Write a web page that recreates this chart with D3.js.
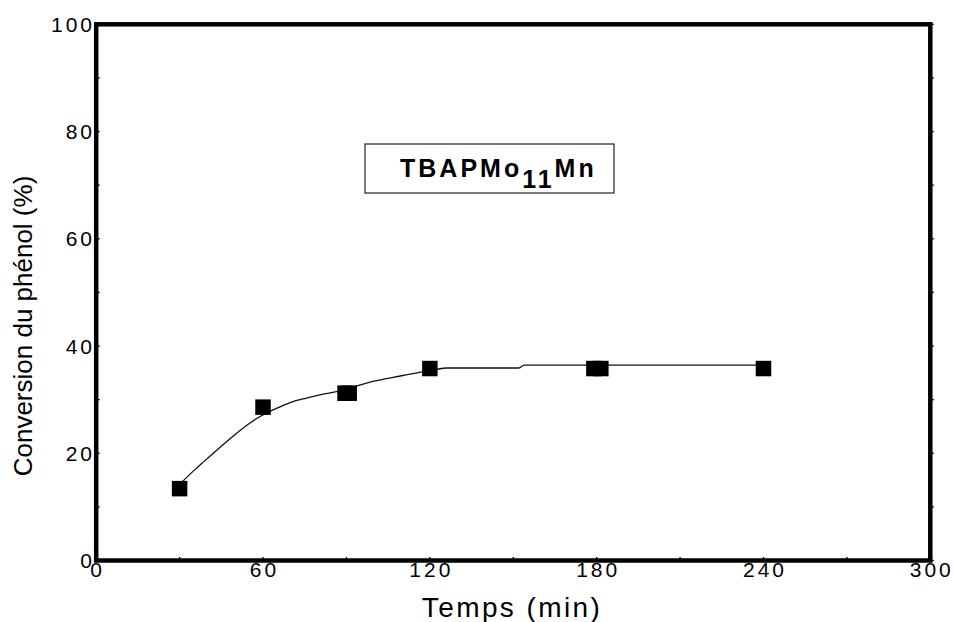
<!DOCTYPE html>
<html>
<head>
<meta charset="utf-8">
<script src="https://cdn.jsdelivr.net/npm/d3@7"></script>
<style>
  body { margin: 0; background: #fff; }
  svg { font-family: 'Liberation Sans', Arial, sans-serif; }
</style>
</head>
<body>
<svg id="chart"></svg>
<script>
const width = 954;
const height = 622;

// measured points (time in min, conversion in %)
const pointTimes = [30, 60, 89.5, 91, 120, 179, 181.5, 240];
const pointValues = [13.4, 28.6, 31.2, 31.2, 35.8, 35.8, 35.8, 35.8];

// fitted curve
const curveTimes = [30, 35.4, 38.4, 40.8, 45, 50.4, 55.2, 58.8, 62.4, 65.4, 70, 75.6, 80.4, 86.4, 94.7, 99.5, 104.4, 110.3, 116.3, 122, 126, 152, 154, 241];
const curveValues = [14.2, 16.9, 18.3, 19.4, 21.3, 23.7, 25.6, 26.8, 27.8, 28.5, 29.5, 30.3, 30.9, 31.5, 32.7, 33.4, 33.9, 34.5, 35.1, 35.6, 35.9, 35.9, 36.45, 36.45];

const xTicks = [0, 60, 120, 180, 240, 300];
const xMinor = [30, 90, 150, 210, 270];
const yTicks = [0, 20, 40, 60, 80, 100];
const yMinor = [10, 30, 50, 70, 90];

const legendLabel = 'TBAPMo';
const legendSub = '11';
const legendEnd = 'Mn';

const plot = { left: 96.2, right: 930.3, top: 24.3, bottom: 560.5 };

const svg = d3.select('#chart')
  .attr('width', width)
  .attr('height', height);

const x = d3.scaleLinear().domain([0, 300]).range([plot.left, plot.right]);
const y = d3.scaleLinear().domain([0, 100]).range([plot.bottom, plot.top]);

// small tick nubs on the frame
const tickG = svg.append('g').attr('stroke', '#000').attr('stroke-width', 1.3);
tickG.selectAll('.xt')
  .data(xTicks.concat(xMinor))
  .enter().append('line')
  .attr('x1', d => x(d)).attr('x2', d => x(d))
  .attr('y1', plot.bottom).attr('y2', plot.bottom - 3.5);
tickG.selectAll('.yt')
  .data(yTicks.concat(yMinor))
  .enter().append('line')
  .attr('x1', plot.left).attr('x2', plot.left + 3.5)
  .attr('y1', d => y(d)).attr('y2', d => y(d));
tickG.selectAll('.yr')
  .data(yTicks.concat(yMinor))
  .enter().append('line')
  .attr('x1', plot.right).attr('x2', plot.right + 3.5)
  .attr('y1', d => y(d)).attr('y2', d => y(d));

// frame
svg.append('rect')
  .attr('x', plot.left).attr('y', plot.top)
  .attr('width', plot.right - plot.left)
  .attr('height', plot.bottom - plot.top)
  .attr('fill', 'none')
  .attr('stroke', '#000')
  .attr('stroke-width', 4.5);

// tick labels
svg.append('g').selectAll('text')
  .data(xTicks)
  .enter().append('text')
  .attr('x', d => x(d) + 1.5)
  .attr('y', 577)
  .attr('text-anchor', 'middle')
  .style('font-size', '21px')
  .style('letter-spacing', '3px')
  .text(d => d);

svg.append('g').selectAll('text')
  .data(yTicks)
  .enter().append('text')
  .attr('x', 95)
  .attr('y', d => y(d) + 7.5)
  .attr('text-anchor', 'end')
  .style('font-size', '21px')
  .style('letter-spacing', '3px')
  .text(d => d);

// axis titles
svg.append('text')
  .attr('x', 512)
  .attr('y', 617)
  .attr('text-anchor', 'middle')
  .style('font-size', '28px')
  .style('letter-spacing', '2.4px')
  .text('Temps (min)');

svg.append('text')
  .attr('transform', 'translate(32,326) rotate(-90)')
  .attr('text-anchor', 'middle')
  .style('font-size', '26px')
  .text('Conversion du phénol (%)');

// curve
const line = d3.line()
  .x(d => x(d[0]))
  .y(d => y(d[1]))
  .curve(d3.curveMonotoneX);

svg.append('path')
  .datum(d3.zip(curveTimes, curveValues))
  .attr('d', line)
  .attr('fill', 'none')
  .attr('stroke', '#111')
  .attr('stroke-width', 1.3);

// square markers
const size = 15.5;
svg.append('g').selectAll('rect')
  .data(d3.zip(pointTimes, pointValues))
  .enter().append('rect')
  .attr('x', d => x(d[0]) - size / 2)
  .attr('y', d => y(d[1]) - size / 2)
  .attr('width', size)
  .attr('height', size)
  .attr('fill', '#000');

// legend box
const legend = svg.append('g');
legend.append('rect')
  .attr('x', 365).attr('y', 144)
  .attr('width', 249).attr('height', 49)
  .attr('fill', '#fff')
  .attr('stroke', '#222')
  .attr('stroke-width', 1.2);
const lt = legend.append('text')
  .attr('x', 400).attr('y', 177)
  .style('font-size', '25px')
  .style('font-weight', 'bold')
  .style('letter-spacing', '3px');
lt.append('tspan').text(legendLabel);
lt.append('tspan').attr('dy', 10.5).text(legendSub);
lt.append('tspan').attr('dy', -10.5).text(legendEnd);
</script>
</body>
</html>
